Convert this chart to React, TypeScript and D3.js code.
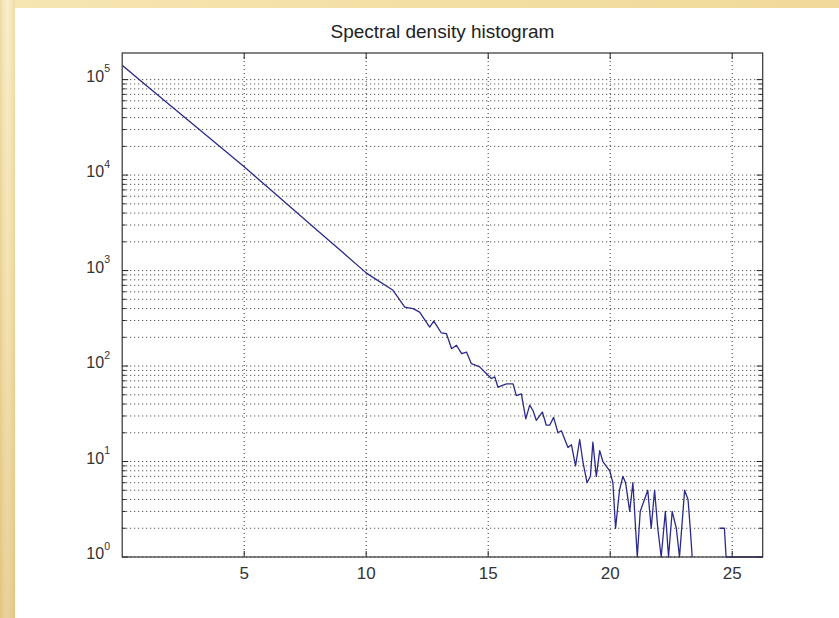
import React from "react";
import * as d3 from "d3";

const W = 839;
const H = 618;

// Bin centres and their counts (0 = empty bin, not drawn on the log axis)
const binX = [
  0, 1, 2, 3, 4, 5, 6, 7, 8, 9, 10, 10.15, 11.1, 11.58, 11.92, 12.19, 12.6,
  12.77, 13.08, 13.29, 13.5, 13.7, 13.91, 14.11, 14.31, 14.65, 14.93, 15.13,
  15.27, 15.4, 15.75, 16.02, 16.15, 16.36, 16.54, 16.7, 16.84, 16.97, 17.22,
  17.38, 17.52, 17.68, 17.86, 18.0, 18.27, 18.41, 18.58, 18.75, 18.88, 19.05,
  19.19, 19.29, 19.43, 19.57, 19.7, 19.98, 20.11, 20.22, 20.38, 20.52, 20.63,
  20.8, 20.93, 21.11, 21.23, 21.54, 21.68, 21.82, 21.95, 22.09, 22.26, 22.39,
  22.54, 22.71, 22.84, 23.05, 23.19, 23.28, 23.36, 23.5, 24.35, 24.48, 24.68,
  24.75, 26.25,
];
const counts = [
  141000, 86300, 52900, 32400, 19900, 12200, 7310, 4390, 2630, 1580, 946, 891,
  621, 415, 399, 367, 256, 296, 222, 218, 152, 165, 135, 140, 106, 98, 83, 74,
  77, 60, 65, 65, 49, 51, 28, 39, 34, 27, 33, 24, 24, 29, 20, 21, 14, 15, 9,
  17, 10, 6, 7, 16, 7, 13, 10, 8, 6, 2, 5, 7, 6, 3, 6, 1, 3, 5, 2, 5, 2, 1, 3,
  1, 3, 2, 1, 5, 4, 2, 1, 0, 0, 2, 2, 1, 1,
];

const xTicks = [5, 10, 15, 20, 25];
const decades = [0, 1, 2, 3, 4, 5];
const titleText = "Spectral density histogram";

const FONT = "'Liberation Sans', Arial, sans-serif";

export default function App() {
  const left = 122.2;
  const right = 762.7;
  const top = 53;
  const bottom = 557;

  const x = d3.scaleLinear().domain([0, 26.25]).range([left, right]);
  const y = d3.scaleLog().domain([1, 1.9e5]).range([bottom, top]);

  const gridVals: number[] = [];
  decades.forEach((k) => {
    for (let m = 1; m <= 9; m++) {
      const v = m * Math.pow(10, k);
      if (v <= 1.9e5) gridVals.push(v);
    }
  });

  const pts = binX.map((bx, i) => [bx, counts[i]] as [number, number]);
  const line = d3
    .line<[number, number]>()
    .defined((d) => d[1] > 0)
    .x((d) => x(d[0]))
    .y((d) => y(d[1]));

  const isMajor = (v: number) => Math.abs(Math.log10(v) - Math.round(Math.log10(v))) < 1e-9;

  return (
    <div style={{ position: "absolute", left: 0, top: 0 }}>
      <svg width={W} height={H} style={{ display: "block" }}>
        <defs>
          <linearGradient id="sideBand" x1="0" y1="0" x2="0" y2="1">
            <stop offset="0" stopColor="#f8ebc0" />
            <stop offset="0.5" stopColor="#f1dca2" />
            <stop offset="1" stopColor="#e5c987" />
          </linearGradient>
          <linearGradient id="sideShade" x1="0" y1="0" x2="1" y2="0">
            <stop offset="0" stopColor="#d9b96a" stopOpacity="0.35" />
            <stop offset="0.5" stopColor="#ffffff" stopOpacity="0.15" />
            <stop offset="1" stopColor="#d9b96a" stopOpacity="0.3" />
          </linearGradient>
          <linearGradient id="topBand" x1="0" y1="0" x2="1" y2="0">
            <stop offset="0" stopColor="#f6e6b2" />
            <stop offset="0.5" stopColor="#f3dfa4" />
            <stop offset="1" stopColor="#f0d99a" />
          </linearGradient>
          <clipPath id="plotClip">
            <rect x={left} y={top - 1} width={right - left} height={bottom - top + 2} />
          </clipPath>
        </defs>

        <rect x={0} y={0} width={W} height={H} fill="#ffffff" />
        <rect x={0} y={0} width={W} height={8} fill="url(#topBand)" />
        <rect x={0} y={0} width={15} height={H} fill="url(#sideBand)" />
        <rect x={0} y={0} width={15} height={H} fill="url(#sideShade)" />

        {/* horizontal grid (decades and sub-decades) */}
        {gridVals.map((v) => (
          <line
            key={"h" + v}
            x1={left}
            x2={right}
            y1={y(v)}
            y2={y(v)}
            stroke="#111"
            strokeWidth={1}
            strokeDasharray="1 3"
            opacity={0.85}
          />
        ))}
        {/* vertical grid */}
        {xTicks.map((t) => (
          <line
            key={"v" + t}
            x1={x(t)}
            x2={x(t)}
            y1={top}
            y2={bottom}
            stroke="#111"
            strokeWidth={1}
            strokeDasharray="1 3"
            opacity={0.85}
          />
        ))}

        {/* y ticks on both sides */}
        {gridVals.map((v) => {
          const len = isMajor(v) ? 6 : 3.5;
          return (
            <g key={"yt" + v}>
              <line x1={left} x2={left + len} y1={y(v)} y2={y(v)} stroke="#222" strokeWidth={1} />
              <line x1={right} x2={right - len} y1={y(v)} y2={y(v)} stroke="#222" strokeWidth={1} />
            </g>
          );
        })}
        {/* x ticks top and bottom */}
        {xTicks.map((t) => (
          <g key={"xt" + t}>
            <line x1={x(t)} x2={x(t)} y1={bottom} y2={bottom - 6} stroke="#222" strokeWidth={1} />
            <line x1={x(t)} x2={x(t)} y1={top} y2={top + 6} stroke="#222" strokeWidth={1} />
          </g>
        ))}

        {/* data */}
        <path
          d={line(pts) || ""}
          fill="none"
          stroke="#2a2a8c"
          strokeWidth={1.3}
          strokeLinejoin="round"
          clipPath="url(#plotClip)"
        />

        {/* frame */}
        <rect
          x={left}
          y={top}
          width={right - left}
          height={bottom - top}
          fill="none"
          stroke="#333"
          strokeWidth={1.2}
        />

        {/* y tick labels */}
        {decades.map((k) => (
          <text
            key={"yl" + k}
            x={110}
            y={y(Math.pow(10, k)) + 2}
            textAnchor="end"
            fontFamily={FONT}
            fontSize={16}
            fill="#333"
          >
            10
            <tspan dy={-9.5} fontSize={10.5}>
              {k}
            </tspan>
          </text>
        ))}

        {/* x tick labels */}
        {xTicks.map((t) => (
          <text
            key={"xl" + t}
            x={x(t)}
            y={579}
            textAnchor="middle"
            fontFamily={FONT}
            fontSize={17}
            fill="#333"
          >
            {t}
          </text>
        ))}

        {/* title */}
        <text
          x={(left + right) / 2}
          y={38}
          textAnchor="middle"
          fontFamily={FONT}
          fontSize={19}
          fill="#222"
        >
          {titleText}
        </text>
      </svg>
    </div>
  );
}
